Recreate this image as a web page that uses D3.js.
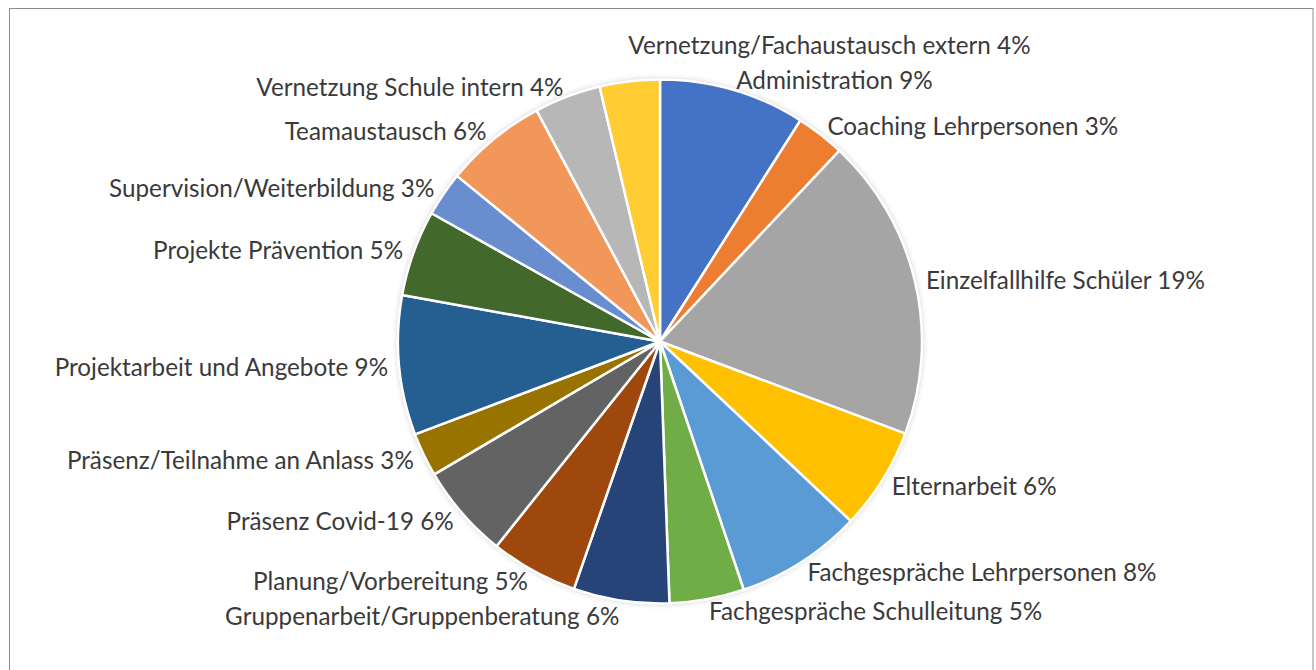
<!DOCTYPE html>
<html>
<head>
<meta charset="utf-8">
<script src="https://cdn.jsdelivr.net/npm/d3@7/dist/d3.min.js"></script>
<style>
  body { margin:0; background:#fff; }
  svg { display:block; }
</style>
</head>
<body>
<div id="chart"></div>
<script>
// slices, clockwise from 12 o'clock
const categories = [
  "Administration", "Coaching Lehrpersonen", "Einzelfallhilfe Schüler", "Elternarbeit",
  "Fachgespräche Lehrpersonen", "Fachgespräche Schulleitung", "Gruppenarbeit/Gruppenberatung",
  "Planung/Vorbereitung", "Präsenz Covid-19", "Präsenz/Teilnahme an Anlass",
  "Projektarbeit und Angebote", "Projekte Prävention", "Supervision/Weiterbildung",
  "Teamaustausch", "Vernetzung Schule intern", "Vernetzung/Fachaustausch extern"
]
const values = [9.0, 3.0, 18.7, 6.3, 7.8, 4.6, 5.9, 5.4, 5.8, 2.7, 8.6, 5.3, 2.75, 6.3, 4.1, 3.7]
const colors = [
  "#4472C4", "#ED7D31", "#A5A5A5", "#FFC000", "#5B9BD5", "#70AD47", "#264478",
  "#9E480E", "#636363", "#997300", "#255E91", "#43682B", "#698ED0", "#F1975A",
  "#B7B7B7", "#FFCD33"
]

const W = 1316, H = 670
const cx = 660, cy = 341.5, radius = 262
const fontFam = "Lato, 'Open Sans', sans-serif"

const data = categories.map((c, i) => ({ cat: c, value: values[i], color: colors[i] }))
const total = d3.sum(values)

const svg = d3.select("#chart").append("svg").attr("width", W).attr("height", H)

// chart frame
svg.append("rect").attr("x", 9.5).attr("y", 8.5).attr("width", 1303.5).attr("height", 680)
  .attr("fill", "none").attr("stroke", "#8c8c8c").attr("stroke-width", 1)

const defs = svg.append("defs")
const f = defs.append("filter").attr("id", "shadow").attr("x", "-10%").attr("y", "-10%").attr("width", "120%").attr("height", "120%")
f.append("feGaussianBlur").attr("in", "SourceAlpha").attr("stdDeviation", 3).attr("result", "b")
f.append("feComponentTransfer").attr("in", "b").attr("result", "s")
  .append("feFuncA").attr("type", "linear").attr("slope", 0.25)
const fm = f.append("feMerge")
fm.append("feMergeNode").attr("in", "s")
fm.append("feMergeNode").attr("in", "SourceGraphic")

const pie = d3.pie().sort(null).value(d => d.value)
const arcs = pie(data)
const arc = d3.arc().innerRadius(0).outerRadius(radius)

let g = svg.append("g").attr("transform", `translate(${cx},${cy})`)
g.append("circle").attr("r", radius).attr("fill", "#fff").attr("filter", "url(#shadow)")
g.selectAll("path").data(arcs).enter().append("path")
  .attr("d", arc)
  .attr("fill", d => d.data.color)
  .attr("stroke", "white")
  .attr("stroke-width", 2.5)
  .attr("stroke-linejoin", "round")

// fit font size so the labels have the width of the original
let probe = svg.append("text").attr("font-family", fontFam).attr("font-size", 100).text("Einzelfallhilfe Schüler 19%")
let fontSize = 100 * 279 / probe.node().getComputedTextLength()
probe.remove()

const labelR = radius + 11
const lh = fontSize * 1.45
let labels = arcs.map(d => {
  let a = (d.startAngle + d.endAngle) / 2
  let s = Math.sin(a), c = Math.cos(a)
  let px = cx + labelR * s
  let py = cy - labelR * c
  let pct = Math.round(d.data.value / total * 100)
  // near the top the small left slice still reads to the right
  let start = s >= 0 || (c > 0.95)
  return { text: `${d.data.cat} ${pct}%`, px, y: py, anchor: start ? "start" : "end" }
})

let lg = svg.append("g")
let texts = lg.selectAll("text").data(labels).enter().append("text")
  .attr("font-family", fontFam)
  .attr("font-size", fontSize)
  .attr("fill", "#3a3a3a")
  .attr("text-anchor", d => d.anchor)
  .attr("dominant-baseline", "central")
  .text(d => d.text)

texts.each(function(d) {
  d.w = this.getComputedTextLength()
  d.x0 = d.anchor === "start" ? d.px : d.px - d.w
})

// overlapping labels: move the outer one away from the centre line
for (let it = 0; it < 60; it++) {
  for (let i = 0; i < labels.length; i++) {
    for (let j = i + 1; j < labels.length; j++) {
      let a = labels[i], b = labels[j]
      if (a.x0 > b.x0 + b.w || b.x0 > a.x0 + a.w) continue
      let gap = Math.abs(a.y - b.y)
      if (gap < lh) {
        let d = lh - gap
        let up = a.y < b.y ? a : b, down = a.y < b.y ? b : a
        if (up.y < cy && down.y < cy) up.y -= d
        else if (up.y > cy && down.y > cy) down.y += d
        else { up.y -= d / 2; down.y += d / 2 }
      }
    }
  }
}

texts.attr("x", d => d.px).attr("y", d => d.y)
</script>
</body>
</html>
